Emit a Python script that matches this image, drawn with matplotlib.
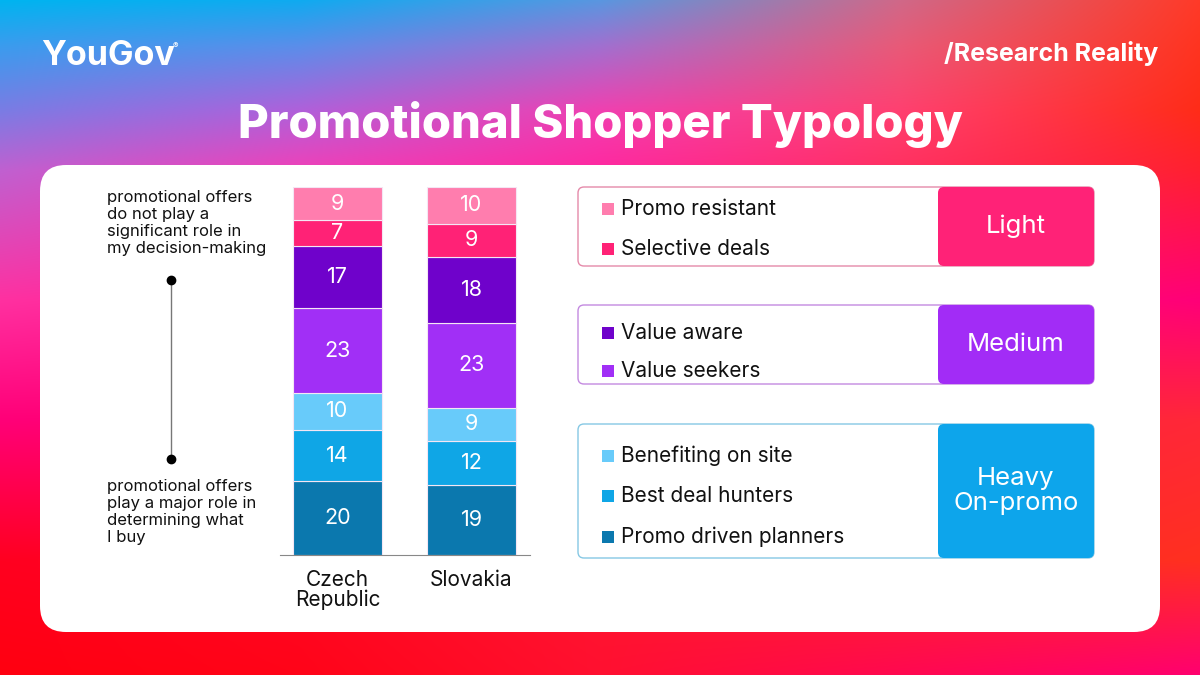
import matplotlib
matplotlib.use('Agg')
import matplotlib.pyplot as plt
import numpy as np
from matplotlib.patches import FancyBboxPatch, Rectangle

plt.rcParams['font.family'] = ['Inter', 'DejaVu Sans']

# data
countries = ['Czech\nRepublic', 'Slovakia']
segments = ['Promo driven planners', 'Best deal hunters', 'Benefiting on site',
            'Value seekers', 'Value aware', 'Selective deals', 'Promo resistant']
czech = [20, 14, 10, 23, 17, 7, 9]
slovakia = [19, 12, 9, 23, 18, 9, 10]
colors = ['#0B78AE', '#0FA6E6', '#68CBFA', '#A12FF6', '#6F02CB', '#FF2276', '#FF7DAE']

groups = ['Light', 'Medium', 'Heavy\nOn-promo']
group_items = [['Promo resistant', 'Selective deals'],
               ['Value aware', 'Value seekers'],
               ['Benefiting on site', 'Best deal hunters', 'Promo driven planners']]
group_colors = ['#FF2277', '#A22CF6', '#0DA5EB']
group_edges = ['#E58AAA', '#C48AE0', '#86C8E4']

W, H = 1200, 675


def hex_rgb(h):
    return [int(h[i:i + 2], 16) / 255 for i in (1, 3, 5)]


# background gradient anchors (rows of colours across x)
gx = [0, 300, 600, 900, 1200]
gy = [0, 45, 110, 170, 300, 420, 560, 675]
grid = [
    ['#00B4F0', '#10AAF0', '#5A96E0', '#D06888', '#FF3A28'],
    ['#3A9CEE', '#5A8EEA', '#A070D0', '#E85A78', '#FF3420'],
    ['#7A7CE4', '#B060DA', '#F040B0', '#FF4070', '#FF2C18'],
    ['#C060D0', '#F040B8', '#FF28A0', '#FF3060', '#FF2030'],
    ['#FF30A0', '#FF2098', '#FF1080', '#FF1070', '#FF0078'],
    ['#FF0078', '#FF0070', '#FF1060', '#FF2040', '#FF2838'],
    ['#FF0020', '#FF0828', '#FF1830', '#FF2828', '#FF3020'],
    ['#FF0010', '#FF0418', '#FF1030', '#FF0850', '#FF0070'],
]
gc = np.array([[hex_rgb(c) for c in row] for row in grid])
xs = np.arange(W)
ys = np.arange(H)
rows = np.zeros((len(gy), W, 3))
for i in range(len(gy)):
    for ch in range(3):
        rows[i, :, ch] = np.interp(xs, gx, gc[i, :, ch])
img = np.zeros((H, W, 3))
for ch in range(3):
    for j in range(W):
        img[:, j, ch] = np.interp(ys, gy, rows[:, j, ch])

fig = plt.figure(figsize=(12, 6.75), dpi=100)
bg = fig.add_axes([0, 0, 1, 1])
bg.imshow(img, extent=(0, W, H, 0), aspect='auto')
bg.set_xlim(0, W)
bg.set_ylim(H, 0)
bg.axis('off')

bg.add_patch(FancyBboxPatch((40, 165), 1120, 467, boxstyle='round,pad=0,rounding_size=26',
                            fc='white', ec='none'))

bg.text(41, 56, 'YouGov', color='white', fontsize=24.5, fontweight='bold', va='center', ha='left')
bg.text(173, 46, '®', color='white', fontsize=6, va='center', ha='left')
bg.text(1158, 54, '/Research Reality', color='white', fontsize=18, fontweight='bold',
        va='center', ha='right')
bg.text(600, 124, 'Promotional Shopper Typology', color='white', fontsize=34,
        fontweight='heavy', va='center', ha='center')

# left scale annotation
bg.text(107, 190, 'promotional offers\ndo not play a\nsignificant role in\nmy decision-making',
        fontsize=12, va='top', ha='left', color='#111111', linespacing=1.17)
bg.text(107, 479, 'promotional offers\nplay a major role in\ndetermining what\nI buy',
        fontsize=12, va='top', ha='left', color='#111111', linespacing=1.17)
bg.plot([171, 171], [280, 459], color='#777777', lw=1)
bg.plot([171, 171], [280, 459], 'o', color='black', ms=6)

# stacked bars
ax = fig.add_axes([280 / W, 120 / H, 250 / W, 368 / H])
ax.patch.set_alpha(0)
ax.set_ylim(0, 100)
ax.set_xlim(-57.5 / 134, 1 + 58.5 / 134)
for i, vals in enumerate([czech, slovakia]):
    bottom = 0
    for v, c in zip(vals, colors):
        ax.bar(i, v, bottom=bottom, width=89 / 134, color=c, edgecolor='#F4E6F4', linewidth=0.8)
        ax.text(i, bottom + v / 2, str(v), color='white', fontsize=15.5, ha='center', va='center')
        bottom += v
for s in ['top', 'left', 'right']:
    ax.spines[s].set_visible(False)
ax.spines['bottom'].set_color('#888888')
ax.set_yticks([])
ax.set_xticks([0, 1])
ax.set_xticklabels(countries, fontsize=15, linespacing=0.95, color='#111111')
ax.tick_params(axis='x', length=0, pad=11)

# legend group boxes
tops = [187, 305, 424]
heights = [79, 79, 134]
item_ys = [[209, 249], [333, 371], [456, 496, 537]]
for g, top, h, iy, items, gcol, ecol in zip(groups, tops, heights, item_ys, group_items,
                                           group_colors, group_edges):
    bg.add_patch(FancyBboxPatch((578, top), 516, h, boxstyle='round,pad=0,rounding_size=6',
                                fc='white', ec=ecol, lw=1))
    bg.add_patch(FancyBboxPatch((938, top), 156, h, boxstyle='round,pad=0,rounding_size=6',
                                fc=gcol, ec='none'))
    bg.text(1016, top + h / 2, g, color='white', fontsize=18.5, ha='center', va='center',
            linespacing=1.1)
    for y, name in zip(iy, items):
        c = colors[segments.index(name)]
        bg.add_patch(Rectangle((602, y - 6), 12, 12, fc=c, ec='none'))
        bg.text(621, y, name, fontsize=15, va='center', ha='left', color='#111111')

fig.savefig('out.png', dpi=100)
